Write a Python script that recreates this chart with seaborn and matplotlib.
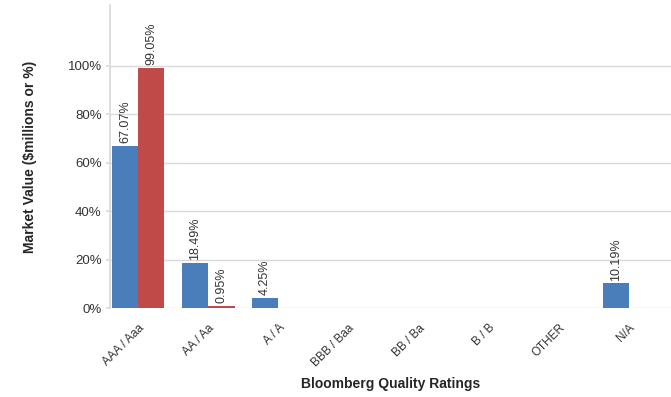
import pandas as pd
import matplotlib.pyplot as plt
import seaborn as sns

# data
ratings = ["AAA / Aaa", "AA / Aa", "A / A", "BBB / Baa", "BB / Ba", "B / B", "OTHER", "N/A"]
portfolio = [67.07, 18.49, 4.25, 0, 0, 0, 0, 10.19]
benchmark = [99.05, 0.95, 0, 0, 0, 0, 0, 0]
series_names = ["Portfolio", "Benchmark"]

df = pd.DataFrame({
    "rating": ratings * 2,
    "value": portfolio + benchmark,
    "series": [series_names[0]] * len(ratings) + [series_names[1]] * len(ratings),
})

# plot
sns.set_theme(style="white")
plt.rcParams["font.family"] = ["Liberation Sans", "DejaVu Sans"]

fig = plt.figure(figsize=(6.71, 3.97), dpi=100)
ax = fig.add_axes([0.164, 0.224, 0.836, 0.763])

sns.barplot(data=df, x="rating", y="value", hue="series", order=ratings,
            palette=["#4a7ebb", "#be4b48"], width=0.75, saturation=1,
            linewidth=0, legend=False, ax=ax, zorder=3)

for cont in ax.containers:
    labels = [f"{b.get_height():.2f}%" if b.get_height() > 0 else "" for b in cont]
    ax.bar_label(cont, labels=labels, rotation=90, padding=2, fontsize=9, color="#333333")

ax.set_xlim(-0.4, 7.6)
ax.set_ylim(0, 125)
ax.set_yticks([0, 20, 40, 60, 80, 100])
ax.set_yticklabels([f"{v}%" for v in [0, 20, 40, 60, 80, 100]])
ax.yaxis.grid(True, color="#d9d9d9", linewidth=1, zorder=0)
ax.set_axisbelow(True)

for s in ["top", "right", "bottom"]:
    ax.spines[s].set_visible(False)
ax.spines["left"].set_color("#d9d9d9")

ax.tick_params(axis="y", left=True, length=3, color="#d9d9d9", labelsize=9.5, labelcolor="#333333", pad=3)
ax.tick_params(axis="x", bottom=False, labelsize=8.5, labelcolor="#333333", pad=4)
plt.xticks(rotation=45, ha="right", rotation_mode="anchor")

ax.set_xlabel("Bloomberg Quality Ratings", fontsize=10, fontweight="bold", labelpad=6)
ax.set_ylabel("Market Value ($millions or %)", fontsize=10, fontweight="bold", labelpad=22)

fig.savefig("out.png", dpi=100)
